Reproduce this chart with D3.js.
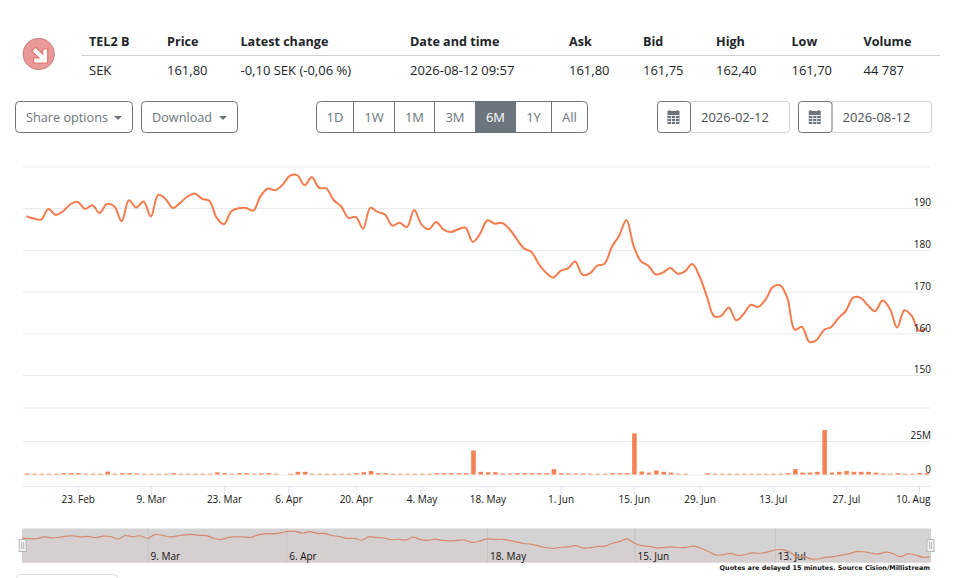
<!DOCTYPE html>
<html>
<head>
<meta charset="utf-8">
<script src="https://cdn.jsdelivr.net/npm/d3@7"></script>
<style>
  html, body { margin: 0; padding: 0; background: #fff; overflow: hidden; }
  text { font-family: "Open Sans", sans-serif; }
</style>
</head>
<body>
<div id="chart"></div>
<script>
// quote table
var quoteHeaders = ["TEL2 B", "Price", "Latest change", "Date and time", "Ask", "Bid", "High", "Low", "Volume"];
var quoteValues = ["SEK", "161,80", "-0,10 SEK (-0,06 %)", "2026-08-12 09:57", "161,80", "161,75", "162,40", "161,70", "44 787"];
var quoteColumns = [89, 167, 240.5, 410, 569, 643, 716, 791.5, 863.5];

var rangeLabels = ["1D", "1W", "1M", "3M", "6M", "1Y", "All"];
var rangeEdges = [316.5, 353.5, 394.5, 434.5, 475.5, 515.5, 551.5, 587.5];
var activeRange = "6M";
var fromDate = "2026-02-12";
var toDate = "2026-08-12";

// trading days, the x axis is ordinal so weekends and holidays take no space
var tradingDays = [
  "02-12","02-13","02-16","02-17","02-18","02-19","02-20","02-23","02-24","02-25","02-26","02-27",
  "03-02","03-03","03-04","03-05","03-06","03-09","03-10","03-11","03-12","03-13","03-16","03-17","03-18","03-19","03-20","03-23","03-24","03-25","03-26","03-27","03-30","03-31",
  "04-01","04-02","04-07","04-08","04-09","04-10","04-13","04-14","04-15","04-16","04-17","04-20","04-21","04-22","04-23","04-24","04-27","04-28","04-29","04-30",
  "05-04","05-05","05-06","05-07","05-08","05-11","05-12","05-13","05-15","05-18","05-19","05-20","05-21","05-22","05-25","05-26","05-27","05-28","05-29",
  "06-01","06-02","06-03","06-04","06-05","06-08","06-09","06-10","06-11","06-12","06-15","06-16","06-17","06-18","06-22","06-23","06-24","06-25","06-26","06-29","06-30",
  "07-01","07-02","07-03","07-06","07-07","07-08","07-09","07-10","07-13","07-14","07-15","07-16","07-17","07-20","07-21","07-22","07-23","07-24","07-27","07-28","07-29","07-30","07-31",
  "08-03","08-04","08-05","08-06","08-07","08-10","08-11"
];

var closePrices = [
  188.05,187.49,187.25,189.81,188.37,189.25,190.93,191.49,189.81,190.69,188.85,191.01,190.45,186.85,191.89,190.13,191.57,187.97,193.18,192.21,
  190.05,191.25,192.78,193.50,192.21,191.73,187.65,186.13,189.25,189.97,190.05,189.41,192.86,194.70,194.30,195.58,197.74,197.90,195.50,197.42,
  194.86,194.70,191.89,190.45,187.65,187.89,185.08,190.05,189.09,188.45,185.80,186.52,185.48,189.57,186.04,184.92,186.68,184.84,184.28,184.92,
  185.32,181.88,183.88,187.08,186.28,186.44,185.00,182.60,180.35,179.55,176.67,174.58,173.38,174.98,175.55,177.23,174.02,174.34,176.19,176.67,
  180.67,183.40,187.16,180.83,177.23,176.19,174.10,174.58,175.63,174.26,174.82,176.59,173.62,168.81,164.09,164.25,166.17,163.13,164.57,166.81,
  166.33,168.01,171.06,171.54,168.41,160.88,161.52,157.92,158.40,160.80,161.52,163.69,165.37,168.57,168.49,166.73,165.29,167.85,165.93,161.36,
  165.53,164.17,160.64,161.20
];

// volume in millions of shares
var volumes = [
  0.8,0.6,0.6,0.6,0.6,1,1,1,0.6,0.6,0.6,2.2,0.6,1,1,0.8,0.6,0.6,0.6,0.6,
  1,0.6,0.6,0.6,0.6,0.6,1.6,1,0.6,1,1,0.6,0.9,1,0.6,0,0.6,2,2,0.6,
  0.6,0.6,0.6,0.6,0.6,1,1.7,2.6,1,1,0.6,0.6,0.6,0.6,0.6,0.6,1,1,1,1,
  1,17.9,2,1.7,1.7,0.8,0.8,1,1,1,1,1,4,1,0.8,0.8,0.8,0.6,0.6,0.6,
  1,1,1,30.7,2.2,1.4,3,2,1.4,0.6,0.6,0,0,1,0.6,0.6,0.6,0.6,0.6,0.6,
  0.6,0.6,0.6,0.6,1,4,1.4,1.4,2,33.2,1.4,2,2.6,2,2,2,1.4,0.8,0.6,1,
  0.6,0.6,1.2,1
];

var priceTicks = [150, 160, 170, 180, 190, 200];
var priceLabels = [150, 160, 170, 180, 190];
var volumeTicks = [0, 25, 50];
var volumeLabels = [0, 25];
var mainTickDays = ["02-23","03-09","03-23","04-06","04-20","05-04","05-18","06-01","06-15","06-29","07-13","07-27","08-10"];
var navTickDays = ["03-09","04-06","05-18","06-15","07-13"];
var footnote = "Quotes are delayed 15 minutes. Source Cision/Millistream";

var width = 958, height = 578;
var orange = "#f47b4c";
var parseDay = d3.timeParse("%Y-%m-%d");
var days = tradingDays.map(d => parseDay("2026-" + d));
var rows = days.map((d, i) => ({date: d, price: closePrices[i], volume: volumes[i]}));

var svg = d3.select("#chart").append("svg")
  .attr("width", width)
  .attr("height", height)
  .style("display", "block");

// ---- quote table ----
var table = svg.append("g").attr("class", "quote");
table.selectAll("text.head").data(quoteHeaders).enter().append("text")
  .attr("class", "head")
  .attr("x", (d, i) => quoteColumns[i])
  .attr("y", 46)
  .attr("fill", "#212529")
  .style("font-size", "12.6px")
  .style("font-weight", 700)
  .text(d => d);
table.selectAll("text.val").data(quoteValues).enter().append("text")
  .attr("class", "val")
  .attr("x", (d, i) => quoteColumns[i])
  .attr("y", 75)
  .attr("fill", "#212529")
  .style("font-size", "13px")
  .text(d => d);
table.append("line")
  .attr("x1", 81).attr("x2", 940).attr("y1", 55.5).attr("y2", 55.5)
  .attr("stroke", "#ced1d4");

// down arrow badge
var badge = svg.append("g").attr("transform", "translate(38.7,54)");
badge.append("circle").attr("r", 15.7).attr("fill", "#e99a98").attr("stroke", "#c9807e");
badge.append("path")
  .attr("d", "M-7,-3 L-3,-7 L4,0 L4,-5 L9,-5 L9,9 L-5,9 L-5,4 L0,4 Z")
  .attr("fill", "#fff")
  .attr("stroke", "#e4726d")
  .attr("stroke-width", 1.2);

// ---- buttons ----
function dropdown(x0, x1, label) {
  svg.append("rect")
    .attr("x", x0 + 0.5).attr("y", 101.5)
    .attr("width", x1 - x0 - 1).attr("height", 31).attr("rx", 4)
    .attr("fill", "#fff").attr("stroke", "#6c757d");
  svg.append("text")
    .attr("x", x0 + 11).attr("y", 122)
    .attr("fill", "#6c757d").style("font-size", "12.7px")
    .text(label);
  svg.append("path")
    .attr("d", "M" + (x1 - 19) + ",116 h8 l-4,4 Z")
    .attr("fill", "#6c757d");
}
dropdown(15, 133, "Share options");
dropdown(141, 238, "Download");

// range buttons: outer box, the active fill, then the dividers
svg.append("rect")
  .attr("x", rangeEdges[0]).attr("y", 101.5)
  .attr("width", rangeEdges[7] - rangeEdges[0]).attr("height", 31).attr("rx", 4)
  .attr("fill", "#fff").attr("stroke", "#6c757d");
svg.selectAll("rect.range").data(rangeLabels.filter(d => d == activeRange)).enter().append("rect")
  .attr("class", "range")
  .attr("x", d => rangeEdges[rangeLabels.indexOf(d)])
  .attr("y", 101.5)
  .attr("width", d => rangeEdges[rangeLabels.indexOf(d) + 1] - rangeEdges[rangeLabels.indexOf(d)])
  .attr("height", 31)
  .attr("fill", "#6c757d");
svg.selectAll("line.range").data(rangeEdges.slice(1, -1)).enter().append("line")
  .attr("class", "range")
  .attr("x1", d => d).attr("x2", d => d)
  .attr("y1", 101.5).attr("y2", 132.5)
  .attr("stroke", "#6c757d");
svg.selectAll("text.range").data(rangeLabels).enter().append("text")
  .attr("class", "range")
  .attr("x", (d, i) => (rangeEdges[i] + rangeEdges[i + 1]) / 2)
  .attr("y", 122)
  .attr("text-anchor", "middle")
  .attr("fill", d => d == activeRange ? "#fff" : "#6c757d")
  .style("font-size", "13px")
  .text(d => d);

function dateBox(x0, x1, x2, label) {
  svg.append("rect")
    .attr("x", x1).attr("y", 101.5)
    .attr("width", x2 - x1).attr("height", 31).attr("rx", 3)
    .attr("fill", "#fff").attr("stroke", "#ced4da");
  svg.append("rect")
    .attr("x", x0 + 0.5).attr("y", 101.5)
    .attr("width", x1 - x0).attr("height", 31).attr("rx", 3)
    .attr("fill", "#fff").attr("stroke", "#6c757d");
  // calendar glyph
  var cx = (x0 + x1) / 2;
  svg.append("path")
    .attr("d", "M" + (cx - 6) + ",111 h12 v13 h-12 Z")
    .attr("fill", "#6c757d");
  svg.append("path")
    .attr("d", "M" + (cx - 4) + ",110 v2 M" + (cx + 4) + ",110 v2")
    .attr("stroke", "#6c757d").attr("stroke-width", 1.5);
  svg.append("path")
    .attr("d", "M" + (cx - 6) + ",115.5 h12 M" + (cx - 6) + ",118.5 h12 M" + (cx - 6) + ",121.5 h12 M" + (cx - 2) + ",115 v9 M" + (cx + 2) + ",115 v9")
    .attr("stroke", "#fff").attr("stroke-width", 0.8);
  svg.append("text")
    .attr("x", x1 + 11).attr("y", 122)
    .attr("fill", "#495057").style("font-size", "13px")
    .text(label);
}
dateBox(657, 690, 789.5, fromDate);
dateBox(798, 831.5, 931.5, toDate);

// ---- scales ----
var plotLeft = 23, plotRight = 930;
var x = d3.scaleTime()
  .domain(days)
  .range(days.map((d, i) => 26.5 + i * 7.316));
var yPrice = d3.scaleLinear().domain([150, 200]).range([375, 166.4]);
var yVolume = d3.scaleLinear().domain([0, 50]).range([474.5, 407.5]);

// ---- grid lines and y labels ----
function yGrid(scale, ticks, labels, fmt) {
  var g = svg.append("g")
    .attr("transform", "translate(" + plotRight + ",0)")
    .call(d3.axisLeft(scale).tickValues(ticks).tickSize(plotRight - plotLeft).tickFormat(""));
  g.select(".domain").remove();
  g.selectAll("line").attr("stroke", "#e9e9e9");
  svg.selectAll(null).data(labels).enter().append("text")
    .attr("x", plotRight + 1)
    .attr("y", d => scale(d) - 1.7)
    .attr("text-anchor", "end")
    .attr("fill", "#111")
    .style("font-size", "10px")
    .text(fmt);
}
yGrid(yPrice, priceTicks, priceLabels, d => d);
yGrid(yVolume, volumeTicks, volumeLabels, d => d ? d + "M" : "0");

// ---- x axis ----
var xAxis = svg.append("g")
  .attr("transform", "translate(0,486.5)")
  .call(d3.axisBottom(x)
    .tickValues(mainTickDays.map(d => parseDay("2026-" + d)))
    .tickSize(8)
    .tickPadding(1.5)
    .tickFormat(d3.timeFormat("%-d. %b")));
xAxis.select(".domain").remove();
xAxis.selectAll("line").attr("stroke", "#dfe5f3");
xAxis.selectAll("text")
  .attr("fill", "#111")
  .style("font-family", '"Open Sans", sans-serif')
  .style("font-size", "10px");
// last label is pushed back inside the plot edge
xAxis.selectAll("text").filter((d, i) => i == mainTickDays.length - 1)
  .attr("text-anchor", "end")
  .attr("x", plotRight - x(days[days.length - 2]));
svg.append("line")
  .attr("x1", plotLeft).attr("x2", plotRight).attr("y1", 486.5).attr("y2", 486.5)
  .attr("stroke", "#dfe5f3");

// ---- volume bars ----
svg.selectAll("rect.vol").data(rows.filter(d => d.volume > 0)).enter().append("rect")
  .attr("class", "vol")
  .attr("x", d => x(d.date) - 1.6)
  .attr("y", d => yVolume(d.volume))
  .attr("width", 4.6)
  .attr("height", d => yVolume(0) - yVolume(d.volume))
  .attr("fill", orange)
  .attr("fill-opacity", 0.95);

// ---- price line ----
var priceLine = d3.line()
  .x(d => x(d.date))
  .y(d => yPrice(d.price))
  .curve(d3.curveCatmullRom);
svg.append("path")
  .datum(rows)
  .attr("d", priceLine)
  .attr("fill", "none")
  .attr("stroke", orange)
  .attr("stroke-width", 2);

// price and volume labels go over the marks, so lift them up
svg.selectAll("text").filter(function () { return this.getAttribute("text-anchor") == "end"; }).raise();

// ---- navigator ----
var navTop = 528.5, navBottom = 562.5;
var xNav = d3.scaleTime()
  .domain(days)
  .range(days.map((d, i) => 22 + i * 7.38));
var yNav = d3.scaleLinear().domain([153, 202]).range([navBottom, navTop]);

svg.append("rect")
  .attr("x", plotLeft - 1).attr("y", navTop)
  .attr("width", plotRight - plotLeft + 2).attr("height", navBottom - navTop)
  .attr("fill", "#d3d3d3");
svg.append("path")
  .datum(rows)
  .attr("d", d3.area().x(d => xNav(d.date)).y0(navBottom).y1(d => yNav(d.price)))
  .attr("fill", "#d6cfcf");
var navAxis = svg.append("g")
  .attr("transform", "translate(0," + navBottom + ")")
  .call(d3.axisTop(xNav)
    .tickValues(navTickDays.map(d => parseDay("2026-" + d)))
    .tickSize(navBottom - navTop)
    .tickFormat(""));
navAxis.select(".domain").remove();
navAxis.selectAll("line").attr("stroke", "#c4c4c4");
svg.selectAll("text.navlabel").data(navTickDays).enter().append("text")
  .attr("class", "navlabel")
  .attr("x", d => xNav(parseDay("2026-" + d)) + 3)
  .attr("y", 559.7)
  .attr("fill", "#111")
  .style("font-size", "10px")
  .text(d => d3.timeFormat("%-d. %b")(parseDay("2026-" + d)));
svg.append("path")
  .datum(rows)
  .attr("d", d3.line().x(d => xNav(d.date)).y(d => yNav(d.price)).curve(d3.curveCatmullRom))
  .attr("fill", "none")
  .attr("stroke", "#d58a6c")
  .attr("stroke-width", 1.2);

// drag handles
[22.7, 930.5].forEach(hx => {
  svg.append("rect")
    .attr("x", hx - 3.5).attr("y", 539.5).attr("width", 7).attr("height", 12)
    .attr("fill", "#f2f2f2").attr("stroke", "#b5b5b5");
  svg.append("path")
    .attr("d", "M" + (hx - 1) + ",542 v7 M" + (hx + 1) + ",542 v7")
    .attr("stroke", "#b5b5b5");
});

svg.append("text")
  .attr("x", plotRight).attr("y", 570)
  .attr("text-anchor", "end")
  .attr("fill", "#111")
  .style("font-family", '"DejaVu Sans", sans-serif')
  .style("font-size", "6.45px")
  .style("font-weight", 700)
  .text(footnote);

// top of the box below the chart, cut off by the window
svg.append("rect")
  .attr("x", 16.5).attr("y", 574.5).attr("width", 101).attr("height", 20).attr("rx", 4)
  .attr("fill", "#fff").attr("stroke", "#ddd");
</script>
</body>
</html>
